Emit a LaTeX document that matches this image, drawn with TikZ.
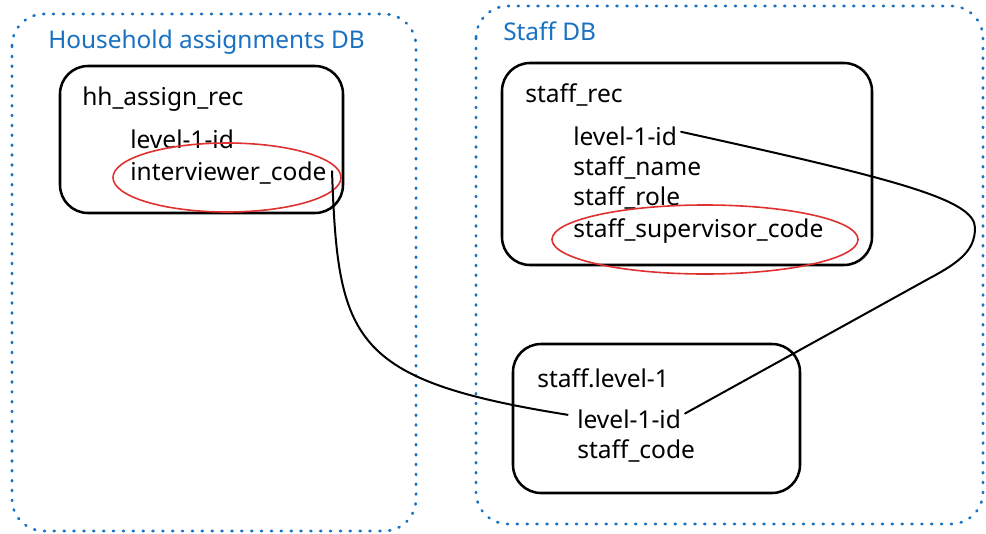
\documentclass[tikz,border=0pt]{standalone}
\usepackage{fontspec}
\setmainfont{Noto Sans}
\begin{document}
\begin{tikzpicture}[x=0.75pt,y=-0.75pt,
  container/.style={draw=dbblue,line width=2pt,dash pattern=on 0.8pt off 6.6pt,line cap=round,rounded corners=24pt},
  recbox/.style={draw=black,line width=1.9pt,rounded corners=21pt},
  hilite/.style={draw=hired,line width=1.2pt},
  title/.style={anchor=base west,inner sep=0pt,text=dbblue,font=\fontsize{18.3}{20}\selectfont},
  field/.style={anchor=base west,inner sep=0pt,font=\fontsize{18.4}{20}\selectfont},
  link/.style={draw=black,line width=1.5pt,line cap=round}]
\definecolor{dbblue}{HTML}{1971C2}
\definecolor{hired}{HTML}{E03131}
\useasboundingbox (0,0) rectangle (986,533);
\fill[white] (0,0) rectangle (986,533);
% containers
\draw[container] (12,14) rectangle (416,531);
\draw[container] (476,6) rectangle (983,524);
\node[title] (t1) at (48,48) {Household assignments DB};
\node[title] (t2) at (503,40) {Staff DB};
% boxes
\draw[recbox] (60,66) rectangle (343,213);
\draw[recbox] (502,63) rectangle (872,265);
\draw[recbox] (513,344) rectangle (800,493);
% hh fields
\node[field] (hh) at (82,105) {hh\_assign\_rec};
\node[field] (hid) at (130,148) {level-1-id};
\node[field] (ic) at (130,180) {interviewer\_code};
% staff_rec fields
\node[field] (sr) at (525,102) {staff\_rec};
\node[field] (sid) at (573,145) {level-1-id};
\node[field] (sn) at (573,175) {staff\_name};
\node[field] (sro) at (573,205) {staff\_role};
\node[field] (ssc) at (573,237) {staff\_supervisor\_code};
% lower
\node[field] (sl) at (537,387) {staff.level-1};
\node[field] (lid) at (577,428) {level-1-id};
\node[field] (sc) at (577,458) {staff\_code};
% highlights
\draw[hilite] (227,177.5) ellipse [x radius=114, y radius=34.5];
\draw[hilite] (705,239.5) ellipse [x radius=153, y radius=34.5];
% links
\draw[link] ([xshift=4pt,yshift=1pt]ic.east) .. controls (338,340) and (350,380) .. ([xshift=-7pt,yshift=3pt]lid.west);
\draw[link] ([xshift=3pt,yshift=3pt]sid.east) .. controls (900,180) and (975,200) .. (975,228)
  .. controls (975,250) and (960,262) .. (930,278) -- ([xshift=3pt,yshift=4pt]lid.east);
\end{tikzpicture}
\end{document}
